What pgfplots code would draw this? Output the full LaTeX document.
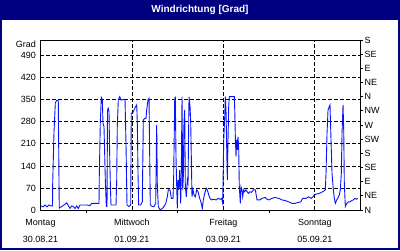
\documentclass[border=0pt]{standalone}
\usepackage{pgfplots}
\pgfplotsset{compat=1.18}
\usepackage{pgfplotstable}
\usepackage{fontspec}
\setmainfont{Liberation Sans}
\definecolor{navy}{RGB}{0,0,128}
\definecolor{wline}{RGB}{10,20,250}

\pgfplotstableread{
d deg
0.011 13
0.055 10
0.098 16
0.142 10
0.186 16
0.230 13
0.263 13
0.267 86
0.295 245
0.324 340
0.354 348
0.389 348
0.405 86
0.411 6
0.464 11
0.514 16
0.573 23
0.608 14
0.645 5
0.683 13
0.718 11
0.755 5
0.792 13
0.827 5
0.864 16
1.011 16
1.083 14
1.120 21
1.280 21
1.286 106
1.308 276
1.330 358
1.352 352
1.367 276
1.389 265
1.418 95
1.440 11
1.455 11
1.466 318
1.483 323
1.499 310
1.514 170
1.531 64
1.542 16
1.652 16
1.667 95
1.680 265
1.702 350
1.733 360
1.761 350
1.805 350
1.827 352
1.849 350
1.870 213
1.892 16
1.936 11
1.973 16
1.986 308
2.017 308
2.045 318
2.083 329
2.105 334
2.118 276
2.133 117
2.148 16
2.192 16
2.227 26
2.249 286
2.280 291
2.308 291
2.323 318
2.352 350
2.374 355
2.389 170
2.402 16
2.446 11
2.483 11
2.520 21
2.542 270
2.555 85
2.577 11
2.614 0
2.665 5
2.702 11
2.739 21
2.774 42
2.796 64
2.833 64
2.862 37
2.899 37
2.914 111
2.936 350
2.949 360
2.964 170
2.980 74
2.993 5
3.008 95
3.023 64
3.045 127
3.067 21
3.080 117
3.096 360
3.111 64
3.124 106
3.139 281
3.155 318
3.168 74
3.190 42
3.212 95
3.227 85
3.249 360
3.271 329
3.286 276
3.299 170
3.314 42
3.336 64
3.358 48
3.387 42
3.417 64
3.446 58
3.483 37
3.518 21
3.540 5
3.562 32
3.592 53
3.627 69
3.649 64
3.680 48
3.708 37
3.737 32
3.780 34
3.846 32
3.883 37
3.927 34
3.964 37
3.977 26
3.986 21
4.008 223
4.030 297
4.043 360
4.058 318
4.074 191
4.087 95
4.102 223
4.117 329
4.130 360
4.240 360
4.249 318
4.262 233
4.277 170
4.292 223
4.305 191
4.321 233
4.336 191
4.349 74
4.371 21
4.386 74
4.408 64
4.423 42
4.445 64
4.467 58
4.496 64
4.546 53
4.583 58
4.620 56
4.655 64
4.699 64
4.736 32
4.802 32
4.846 37
4.918 40
4.955 34
4.992 32
5.065 37
5.130 40
5.211 37
5.283 32
5.349 30
5.430 26
5.502 21
5.568 21
5.633 24
5.692 26
5.736 37
5.808 37
5.867 42
5.918 37
5.962 42
5.990 48
6.027 50
6.099 53
6.174 58
6.231 64
6.246 117
6.268 244
6.290 318
6.318 329
6.333 334
6.355 223
6.377 117
6.406 64
6.428 37
6.449 21
6.480 32
6.502 37
6.537 48
6.559 64
6.581 117
6.596 244
6.618 334
6.633 254
6.646 85
6.668 11
6.699 21
6.734 26
6.771 26
6.808 30
6.843 32
6.880 37
6.917 34
6.939 37
}\wind

\begin{document}
\begin{tikzpicture}[x=1pt,y=1pt]
\useasboundingbox (0,0) rectangle (400,250);
\fill[navy] (0,0) rectangle (400,250);
\fill[white] (2,2) rectangle (398,230);
\node[text=white,font=\fontsize{10}{12}\selectfont\bfseries] at (200,240.5) {Windrichtung [Grad]};
\begin{axis}[
  at={(40.5pt,40pt)}, anchor=south west,
  scale only axis, width=320pt, height=170pt,
  xmin=0, xmax=7, ymin=0, ymax=540,
  axis line style={black, line width=0.9pt},
  xtick={0,2,4,6},
  xticklabels={{Montag\\30.08.21},{Mittwoch\\01.09.21},{Freitag\\03.09.21},{Sonntag\\05.09.21}},
  minor xtick={1,3,5},
  xtick pos=bottom, ytick pos=left,
  major tick length=0pt,
  minor tick length=2.5pt,
  tick align=outside,
  minor tick style={black, line width=0.9pt},
  ytick={0,70,140,210,280,350,420,490},
  yticklabels={0,70,140,210,280,350,420,490},
  extra y ticks={525},
  extra y tick labels={Grad},
  extra y tick style={grid=none},
  xmajorgrids, ymajorgrids,
  major grid style={black, line width=0.8pt, dash pattern=on 4pt off 2pt},
  /pgf/number format/assume math mode=true,
  ticklabel style={font=\fontsize{9}{17}\selectfont, text=black},
  xticklabel style={align=center, inner sep=0pt, anchor=north, yshift=-9pt},
  yticklabel style={inner sep=0pt, anchor=east, xshift=-4.5pt},
]
\addplot[wline, line width=0.9pt, mark=none] table[x=d,y=deg]{\wind};
\end{axis}
\begin{axis}[
  at={(40.5pt,40pt)}, anchor=south west,
  scale only axis, width=320pt, height=170pt,
  xmin=0, xmax=7, ymin=0, ymax=540,
  axis x line=none, axis y line*=right,
  axis line style={black, line width=0.9pt},
  ytick={0,45,90,135,180,225,270,315,360,405,450,495,540},
  yticklabels={N,NE,E,SE,S,SW,W,NW,N,NE,E,SE,S},
  tick align=outside, major tick length=3pt,
  major tick style={black, line width=0.9pt},
  ticklabel style={font=\fontsize{9}{11}\selectfont, text=black},
  yticklabel style={inner sep=0pt, anchor=west, xshift=1pt},
]
\addplot[draw=none] coordinates {(0,0)};
\end{axis}
\end{tikzpicture}
\end{document}
